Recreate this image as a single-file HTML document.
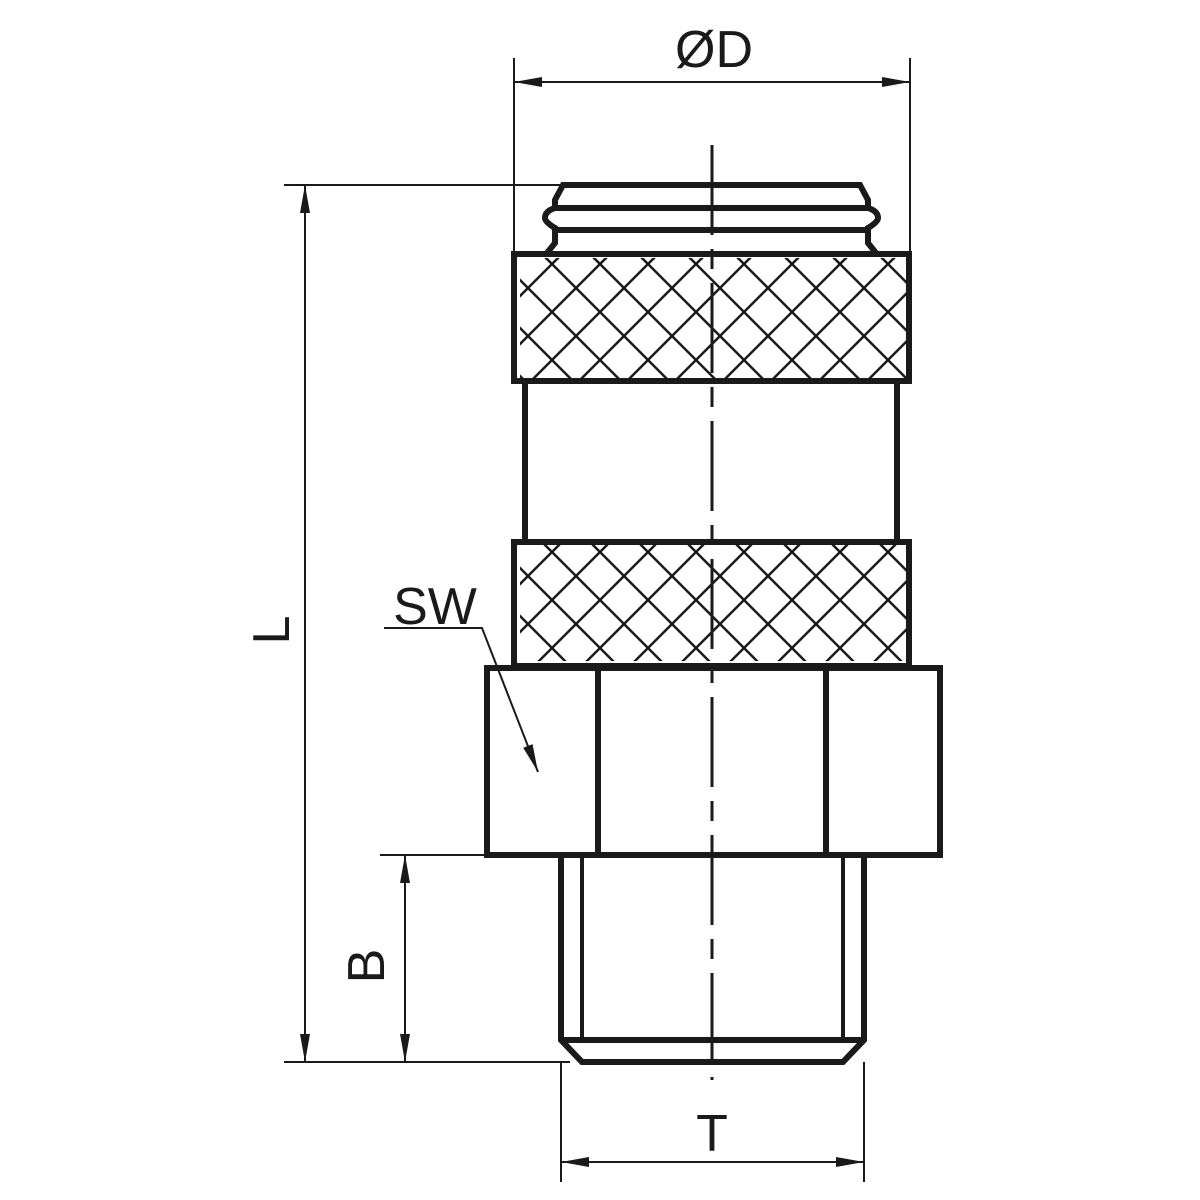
<!DOCTYPE html>
<html><head><style>html,body{margin:0;padding:0;background:#fff}svg{display:block}</style></head>
<body>
<svg width="1200" height="1200" viewBox="0 0 1200 1200" xmlns="http://www.w3.org/2000/svg" font-family="Liberation Sans, sans-serif">
<defs>
<pattern id="kn" patternUnits="userSpaceOnUse" width="48" height="48" x="0" y="0">
<path d="M0 0L48 48M48 0L0 48" stroke="#1a1a1a" stroke-width="2.5" fill="none"/>
</pattern>
<marker id="ar" viewBox="0 0 28 10" refX="28" refY="5" markerWidth="28" markerHeight="10" orient="auto" markerUnits="userSpaceOnUse"><path d="M0 0L28 5L0 10z" fill="#1a1a1a"/></marker>
</defs>
<g stroke="#1a1a1a" fill="none">
<rect x="520" y="258" width="386" height="120" fill="url(#kn)" stroke="none"/>
<rect x="520" y="545" width="386" height="116" fill="url(#kn)" stroke="none"/>
<g stroke-width="6">
<path d="M547 253 L555 243 L555 228 Q545 222 545 218 Q545 211 555 208 L555 200 L563 185 L860 185 L868 200 L868 208 Q878 211 878 218 Q878 222 868 228 L868 243 L876 253"/>
<line x1="555" y1="208" x2="868" y2="208"/>
<line x1="555" y1="230" x2="868" y2="230"/>
<rect x="514" y="254" width="395" height="127"/>
<line x1="525" y1="381" x2="525" y2="541"/>
<line x1="897" y1="381" x2="897" y2="541"/>
<rect x="514" y="542" width="395" height="124"/>
<rect x="487" y="668" width="453" height="187"/>
<line x1="598" y1="668" x2="598" y2="855"/>
<line x1="826" y1="668" x2="826" y2="855"/>
<path d="M561 855 L561 1040 L582 1062 L843 1062 L864 1040 L864 855"/>
<line x1="561" y1="1040" x2="864" y2="1040"/>
</g>
<g stroke-width="4">
<line x1="582" y1="855" x2="582" y2="1040"/>
<line x1="843" y1="855" x2="843" y2="1040"/>
</g>
<line x1="712" y1="145" x2="712" y2="1080" stroke-width="3" stroke-dasharray="90,14,20,14"/>
<g stroke-width="2">
<line x1="514" y1="58" x2="514" y2="254"/>
<line x1="910" y1="58" x2="910" y2="254"/>
<line x1="712" y1="82" x2="514" y2="82" marker-end="url(#ar)"/>
<line x1="712" y1="82" x2="910" y2="82" marker-end="url(#ar)"/>
<line x1="284" y1="185" x2="560" y2="185"/>
<line x1="284" y1="1062" x2="570" y2="1062"/>
<line x1="305" y1="620" x2="305" y2="185" marker-end="url(#ar)"/>
<line x1="305" y1="620" x2="305" y2="1062" marker-end="url(#ar)"/>
<line x1="380" y1="855" x2="487" y2="855"/>
<line x1="405" y1="960" x2="405" y2="855" marker-end="url(#ar)"/>
<line x1="405" y1="960" x2="405" y2="1062" marker-end="url(#ar)"/>
<line x1="561" y1="1062" x2="561" y2="1182"/>
<line x1="864" y1="1062" x2="864" y2="1182"/>
<line x1="712" y1="1162" x2="561" y2="1162" marker-end="url(#ar)"/>
<line x1="712" y1="1162" x2="864" y2="1162" marker-end="url(#ar)"/>
<polyline points="384,628 482,628 538,772" marker-end="url(#ar)"/>
</g>
</g>
<g fill="#1a1a1a" font-size="52">
<text x="714" y="67" text-anchor="middle">ØD</text>
<text x="712" y="1151" text-anchor="middle">T</text>
<text x="435" y="624" text-anchor="middle">SW</text>
<text transform="translate(289,630) rotate(-90)" text-anchor="middle">L</text>
<text transform="translate(384,966) rotate(-90)" text-anchor="middle">B</text>
</g>
</svg>
</body></html>
